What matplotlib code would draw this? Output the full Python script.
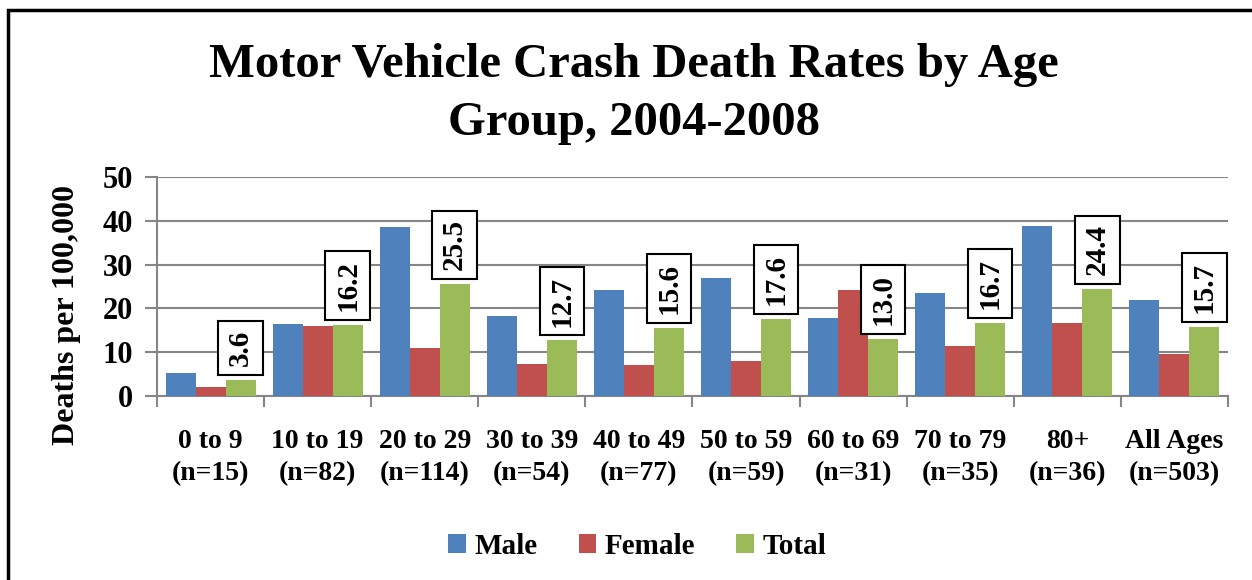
import matplotlib.pyplot as plt
import numpy as np
from matplotlib.patches import Rectangle

age_groups = ['0 to 9\n(n=15)', '10 to 19\n(n=82)', '20 to 29\n(n=114)',
              '30 to 39\n(n=54)', '40 to 49\n(n=77)', '50 to 59\n(n=59)',
              '60 to 69\n(n=31)', '70 to 79\n(n=35)', '80+\n(n=36)',
              'All Ages\n(n=503)']
male = [5.3, 16.5, 38.6, 18.2, 24.1, 27.0, 17.7, 23.6, 38.9, 22.0]
female = [2.1, 16.1, 11.0, 7.3, 7.0, 8.0, 24.1, 11.4, 16.7, 9.5]
total = [3.6, 16.2, 25.5, 12.7, 15.6, 17.6, 13.0, 16.7, 24.4, 15.7]

plt.rcParams['font.family'] = ['Liberation Serif', 'DejaVu Serif']
plt.rcParams['font.weight'] = 'bold'

fig = plt.figure(figsize=(12.52, 5.80), dpi=100)
ax = fig.add_axes([0.1254, 0.3172, 0.8554, 0.3776])

x = np.arange(len(age_groups))
w = 0.28
ax.bar(x - w, male, w, color='#4F81BD', label='Male', zorder=3)
ax.bar(x, female, w, color='#C0504D', label='Female', zorder=3)
ax.bar(x + w, total, w, color='#9BBB59', label='Total', zorder=3)

# boxed, rotated labels above the Total bars
for xi, v in zip(x, total):
    ax.annotate('%.1f' % v, (xi + w, v), xytext=(0, 10), textcoords='offset points',
                rotation=90, ha='center', va='bottom', fontsize=21, fontweight='bold',
                bbox=dict(boxstyle='square,pad=0.3', fc='white', ec='black', lw=1.5),
                zorder=4)

ax.set_xlim(-0.5, len(age_groups) - 0.5)
ax.set_ylim(0, 50)
ax.set_yticks([0, 10, 20, 30, 40, 50])
ax.set_xticks(x)
ax.set_xticklabels(age_groups, fontsize=20, fontweight='bold', linespacing=1.35)
ax.set_xticks(np.arange(len(age_groups) + 1) - 0.5, minor=True)
ax.tick_params(axis='x', which='major', length=0, pad=24)
ax.tick_params(axis='x', which='minor', length=8, width=1.5, color='#868686')
ax.tick_params(axis='y', length=9, width=1.5, color='#868686', labelsize=22, pad=8)
for lab in ax.get_yticklabels():
    lab.set_fontweight('bold')
ax.grid(axis='y', color='#868686', lw=1.5, zorder=0)
for s in ['top', 'right']:
    ax.spines[s].set_visible(False)
for s in ['left', 'bottom']:
    ax.spines[s].set_color('#868686')
    ax.spines[s].set_linewidth(1.5)

ax.set_ylabel('Deaths per 100,000', fontsize=23, fontweight='bold')
ax.yaxis.set_label_coords(-0.071, 0.37)

fig.text(0.506, 0.838, 'Motor Vehicle Crash Death Rates by Age\nGroup, 2004-2008',
         ha='center', va='center', fontsize=35, fontweight='bold', linespacing=1.4)

fig.legend(loc='center', bbox_to_anchor=(0.509, 0.058), ncol=3, frameon=False,
           prop={'size': 21, 'weight': 'bold'}, handlelength=0.6, handleheight=0.6,
           handletextpad=0.3, columnspacing=1.4)

fig.patches.append(Rectangle((8 / 1252, -0.1), 1.2, 1.1 - 10 / 580, transform=fig.transFigure,
                             fill=False, ec='black', lw=2.5, zorder=10))

fig.savefig('out.png', dpi=100)
